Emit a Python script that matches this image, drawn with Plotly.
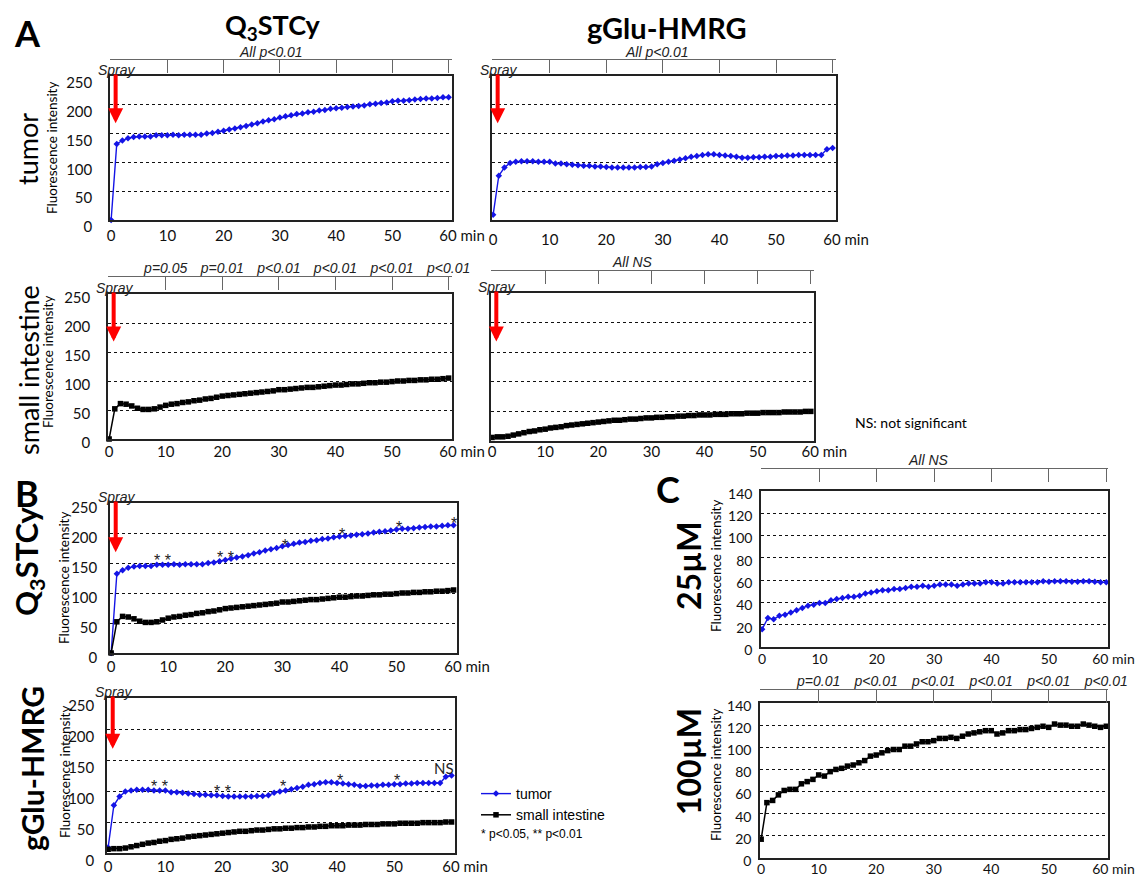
import plotly.graph_objects as go

# page is 1144x878; the html body adds an 8px margin, so the figure is drawn 8px in
W, H = 1144, 878
OFF = 8
FW, FH = W - OFF, H - OFF

# ---------------- data ----------------
minutes = list(range(61))
q3_tumor = [0, 132, 138, 142, 144, 145, 145, 145, 147, 147,
            147, 148, 147, 148, 148, 148, 148, 150, 151, 153,
            155, 157, 159, 161, 163, 166, 168, 171, 173, 175,
            178, 180, 182, 184, 185, 187, 188, 190, 191, 193,
            194, 195, 196, 197, 198, 199, 201, 202, 203, 204,
            206, 207, 207, 208, 209, 210, 211, 211, 212, 213, 213]
q3_si = [0, 52, 61, 60, 57, 53, 51, 51, 52, 55,
         58, 60, 61, 63, 64, 66, 67, 69, 70, 72,
         74, 75, 76, 77, 78, 79, 80, 81, 82, 83,
         85, 85, 86, 87, 88, 89, 89, 90, 91, 92,
         93, 93, 94, 95, 95, 96, 97, 97, 98, 98,
         99, 100, 100, 101, 101, 102, 102, 103, 103, 104, 105]
hmrg_tumor = [9, 77, 91, 99, 101, 102, 102, 102, 101, 101,
              101, 98, 98, 97, 96, 95, 94, 94, 93, 93,
              92, 91, 91, 91, 91, 91, 92, 92, 93, 97,
              99, 101, 103, 105, 107, 110, 111, 113, 114, 114,
              113, 112, 111, 110, 108, 108, 109, 109, 110, 110,
              111, 111, 112, 112, 113, 113, 113, 113, 113, 123, 125]
hmrg_si = [6, 7, 7, 8, 10, 12, 14, 16, 17, 19,
           20, 22, 23, 24, 26, 27, 28, 29, 30, 31,
           32, 33, 34, 35, 35, 36, 37, 37, 38, 39,
           39, 40, 40, 41, 41, 42, 42, 43, 43, 44,
           44, 44, 45, 45, 45, 46, 46, 46, 47, 47,
           47, 48, 48, 48, 48, 49, 49, 49, 49, 50, 50]
c25 = [16, 26, 25, 28, 29, 31, 33, 35, 37, 38,
       39.5, 39.5, 42, 43, 44, 45, 45, 46, 48, 49,
       50, 51, 51, 52, 52, 53, 54, 54, 55, 54,
       55, 56, 56, 56, 55, 56, 57, 57, 57, 58,
       58, 57, 57, 58, 58, 58, 58, 58, 58, 59,
       58.5, 59, 59, 59, 58.5, 58.5, 59, 59, 58.5, 58, 58]
c100 = [17, 50, 52, 57, 61, 62, 62, 67, 69, 71,
        75, 74, 78, 80, 81, 83, 84, 86, 88, 92,
        93, 95, 97, 98, 98, 101, 101, 103, 105, 105,
        106, 108, 108, 109, 108, 110, 112, 113, 114, 115,
        115, 112, 113, 115, 115, 116, 116, 117, 118, 119,
        118, 121, 120, 120, 119, 119, 121, 120, 119, 118, 119]

x_ticks = [0, 10, 20, 30, 40, 50, 60]
x_labels = ["0", "10", "20", "30", "40", "50", "60 min"]
y_ticks_250 = [0, 50, 100, 150, 200, 250]
y_ticks_140 = [0, 20, 40, 60, 80, 100, 120, 140]
test_times = [10, 20, 30, 40, 50, 60]
p_si_q3 = ["p=0.05", "p=0.01", "p<0.01", "p<0.01", "p<0.01", "p<0.01"]
p_100 = ["p=0.01", "p<0.01", "p<0.01", "p<0.01", "p<0.01", "p<0.01"]
sig_q3_times = [9, 20, 30.5, 40.5, 50.5, 60]
sig_q3_labels = ["* *", "* *", "*", "*", "*", "*"]
sig_q3_y = [155, 159, 180, 197, 209, 216]
sig_hm_times = [9, 20, 30.5, 40.5, 50.5, 58.6]
sig_hm_labels = ["* *", "* *", "*", "*", "*", "NS"]
sig_hm_y = [108, 99, 107, 117, 117, 137]

spray_time = 0.8
spray_tip = 168
spray_tail = 255

BLUE = "#1414e6"
CAL = "Lato, 'Open Sans', sans-serif"
ARI = "'Liberation Sans', Arial, sans-serif"


def fx(xpx):
    return (xpx - OFF) / FW


def fy(ypx):
    return 1 - (ypx - OFF) / FH


def px_dom(x0, x1, y0, y1):
    return [fx(x0), fx(x1)], [fy(y1), fy(y0)]


# page-pixel boxes of the eight plot areas
boxes = {
    1: (110, 452, 76, 220),
    2: (492, 836, 76, 220),
    3: (108, 452, 294, 439),
    4: (491, 814, 293, 441),
    5: (110, 457, 503, 653),
    6: (107, 455, 698, 853),
    7: (761, 1108, 491, 647),
    8: (760, 1108, 703, 858),
}

fig = go.Figure()
layout = dict(width=FW, height=FH, margin=dict(l=0, r=0, t=0, b=0, pad=0, autoexpand=False),
              paper_bgcolor="white", plot_bgcolor="white", autosize=False,
              showlegend=True)
annotations = []


def sfx(k):
    return "" if k == 1 else str(k)


def add_axes(k, yr, ytv, show_yl, ylen, xgap, yshift, pad, fsize):
    xd, yd = px_dom(*boxes[k])
    ttext = x_labels[:-1] + ["\u00a0" * pad + x_labels[-1]]
    off = xgap - 15
    layout["xaxis" + sfx(k)] = dict(
        domain=xd, anchor="y" + sfx(k), range=[-0.2, 60.6] if k < 7 else [-0.2, 60.3],
        tickvals=x_ticks, ticktext=ttext, showgrid=False, zeroline=False,
        showline=True, mirror=True, linecolor="#222", linewidth=1.5,
        ticks="outside", ticklen=max(off, 0), ticklabelstandoff=min(off, 0),
        tickcolor="rgba(0,0,0,0)", automargin=False,
        tickfont=dict(family=CAL, size=fsize, color="#111"))
    layout["yaxis" + sfx(k)] = dict(
        domain=yd, anchor="x" + sfx(k), range=yr, tickvals=ytv,
        showticklabels=show_yl, showgrid=True, gridcolor="#111",
        griddash="dot", gridwidth=1, zeroline=False, automargin=False,
        showline=True, mirror=True, linecolor="#222", linewidth=1.5,
        ticks="outside", ticklen=ylen, tickcolor="rgba(0,0,0,0)",
        ticklabelshift=yshift,
        tickfont=dict(family=CAL, size=fsize, color="#111"))


add_axes(1, [0, 250], y_ticks_250, True, 13, 16, 7, 7, 15)
add_axes(2, [0, 250], y_ticks_250, False, 5, 20, 0, 7, 15)
add_axes(3, [0, 250], y_ticks_250, True, 13, 13, 4, 7, 15)
add_axes(4, [0, 250], y_ticks_250, False, 5, 11, 0, 7, 15)
add_axes(5, [0, 250], y_ticks_250, True, 8, 14, 5, 7, 15)
add_axes(6, [0, 250], y_ticks_250, True, 8, 14, 8, 7, 15)
add_axes(7, [0, 140], y_ticks_140, True, 4, 13, 3, 4, 14)
add_axes(8, [0, 140], y_ticks_140, True, 4, 12, 3, 4, 14)


def tumor_trace(k, ys, legend=False):
    fig.add_trace(go.Scatter(
        x=minutes, y=ys, mode="lines+markers", name="tumor",
        line=dict(color=BLUE, width=1.4),
        marker=dict(symbol="diamond", size=5, color=BLUE),
        xaxis="x" + sfx(k), yaxis="y" + sfx(k), cliponaxis=False,
        showlegend=legend))


def si_trace(k, ys, legend=False):
    fig.add_trace(go.Scatter(
        x=minutes, y=ys, mode="lines+markers", name="small intestine",
        line=dict(color="black", width=1.5),
        marker=dict(symbol="square", size=5.5, color="black"),
        xaxis="x" + sfx(k), yaxis="y" + sfx(k), cliponaxis=False,
        showlegend=legend))


tumor_trace(1, q3_tumor)
tumor_trace(2, hmrg_tumor)
si_trace(3, q3_si)
si_trace(4, hmrg_si)
tumor_trace(5, q3_tumor, legend=True)
si_trace(5, q3_si, legend=True)
tumor_trace(6, hmrg_tumor)
si_trace(6, hmrg_si)
tumor_trace(7, c25)
si_trace(8, c100)

# top "comparison" axes with downward tick marks
top_axes = {1: (59, None), 2: (59, None), 3: (276, p_si_q3), 4: (270, None),
            7: (468, None), 8: (689, p_100)}
n = 9
for k, (ypx, labels) in top_axes.items():
    base = layout["xaxis" + sfx(k)]
    layout["xaxis" + str(n)] = dict(
        overlaying="x" + sfx(k), anchor="free", position=fy(ypx),
        side="top", range=base["range"], tickvals=test_times,
        ticktext=labels if labels else [""] * 6, automargin=False,
        showticklabels=labels is not None, showgrid=False, zeroline=False,
        showline=True, linecolor="#666", linewidth=1, ticklabelstandoff=-3,
        ticks="inside", ticklen=13, tickcolor="#666", tickwidth=1,
        tickfont=dict(family=ARI, size=14, color="#222", style="italic"))
    fig.add_trace(go.Scatter(x=[None], y=[None], xaxis="x" + str(n),
                             yaxis="y" + sfx(k), showlegend=False,
                             hoverinfo="skip"))
    n += 1

# "All ..." headers
for k, txt, xval, ypx in [(1, "All p<0.01", 28.5, 52), (2, "All p<0.01", 29, 52),
                          (4, "All NS", 26.5, 262), (7, "All NS", 29, 460)]:
    annotations.append(dict(x=xval, xref="x" + sfx(k), y=fy(ypx), yref="paper",
                            text=txt, showarrow=False, xanchor="center", yanchor="middle",
                            font=dict(family=ARI, size=14, color="#222", style="italic")))

# Spray labels and arrows
for k in [1, 2, 3, 4, 5, 6]:
    annotations.append(dict(x=spray_time, xref="x" + sfx(k), y=250,
                            yref="y" + sfx(k), text="Spray", showarrow=False,
                            xanchor="center", yanchor="bottom", yshift=-4, xshift=1,
                            font=dict(family=ARI, size=14, color="#222", style="italic")))
    annotations.append(dict(x=spray_time, xref="x" + sfx(k), y=spray_tip,
                            yref="y" + sfx(k), ax=spray_time, ay=spray_tail,
                            axref="x" + sfx(k), ayref="y" + sfx(k), text="",
                            showarrow=True, arrowhead=2, arrowsize=0.75,
                            arrowwidth=4, arrowcolor="#ff0000", standoff=0))

# significance marks in B
for t, lab, yv in zip(sig_q3_times, sig_q3_labels, sig_q3_y):
    annotations.append(dict(x=t, xref="x5", y=yv, yref="y5", text=lab,
                            showarrow=False, xanchor="center", yanchor="middle",
                            font=dict(family=ARI, size=16, color="#222")))
for t, lab, yv in zip(sig_hm_times, sig_hm_labels, sig_hm_y):
    annotations.append(dict(x=t, xref="x6", y=yv, yref="y6", text=lab,
                            showarrow=False, xanchor="center", yanchor="middle",
                            font=dict(family=CAL if lab == "NS" else ARI,
                                      size=15 if lab == "NS" else 16, color="#222")))


def paper_text(xpx, ypx, text, size, bold=False, angle=0, family=CAL, anchor="center"):
    annotations.append(dict(x=fx(xpx), y=fy(ypx), xref="paper", yref="paper",
                            text=text, showarrow=False, textangle=angle,
                            xanchor=anchor, yanchor="middle",
                            font=dict(family=family, size=size, color="black",
                                      weight="bold" if bold else "normal")))


# panel letters and headers
paper_text(27, 33, "A", 36, bold=True)
paper_text(27, 493, "B", 36, bold=True)
paper_text(668, 489, "C", 36, bold=True)
paper_text(273, 26, "Q<sub>3</sub>STCy", 27, bold=True)
paper_text(667, 27, "gGlu-HMRG", 29, bold=True)

# row labels
paper_text(27, 149, "tumor", 27, angle=-90)
paper_text(28, 370, "small intestine", 27, angle=-90)
paper_text(28, 561, "Q<sub>3</sub>STCy", 31, bold=True, angle=-90)
paper_text(32, 769, "gGlu-HMRG", 30, bold=True, angle=-90)
paper_text(688, 566, "25µM", 32, bold=True, angle=-90)
paper_text(688, 762, "100µM", 32, bold=True, angle=-90)

# y-axis titles
for xpx, ypx in [(52, 148), (48, 362), (64, 578), (65, 772), (716, 566), (716, 775)]:
    paper_text(xpx, ypx, "Fluorescence intensity", 13.5, angle=-90)

paper_text(853, 422, "NS: not significant", 14, anchor="left")
paper_text(479, 834, "* p<0.05, ** p<0.01", 12, family=ARI, anchor="left")

layout["annotations"] = annotations
layout["legend"] = dict(x=fx(476), y=fy(778), xanchor="left", yanchor="top",
                        bgcolor="rgba(0,0,0,0)", font=dict(family=ARI, size=14, color="black"),
                        itemwidth=30, tracegroupgap=0)
fig.update_layout(**layout)
fig.write_html("out.html")
